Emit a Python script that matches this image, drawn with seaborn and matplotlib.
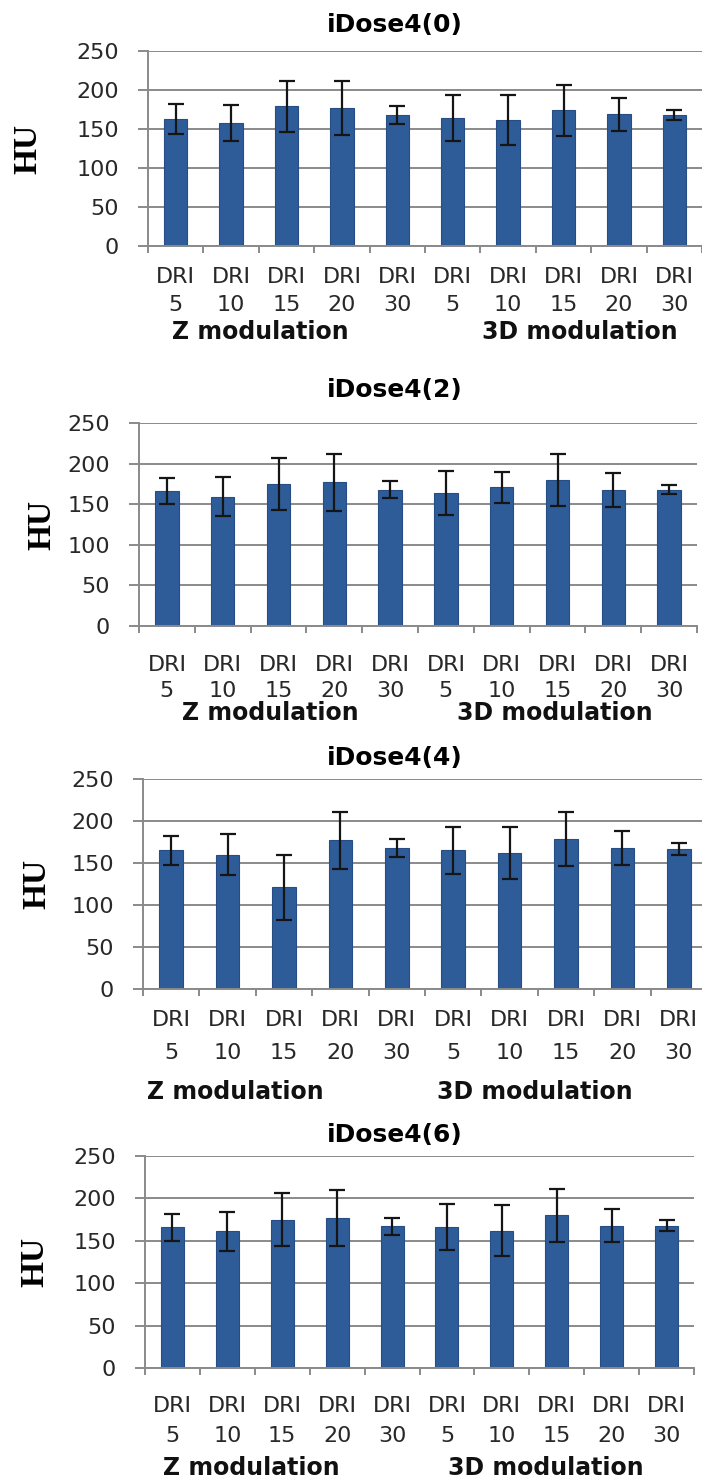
import numpy as np
import pandas as pd
import matplotlib
matplotlib.use("Agg")
import matplotlib.pyplot as plt
import seaborn as sns

# ---------------- data ----------------
titles = ["iDose4(0)", "iDose4(2)", "iDose4(4)", "iDose4(6)"]
group_names = ["Z modulation", "3D modulation"]
groups = ["Z modulation"] * 5 + ["3D modulation"] * 5
dri_levels = ["5", "10", "15", "20", "30", "5", "10", "15", "20", "30"]

means_0 = [163, 158, 179, 177, 168, 164, 161, 174, 169, 168]
err_0 = [19, 23, 33, 35, 11, 29, 32, 33, 21, 7]
means_2 = [166, 159, 175, 177, 168, 164, 171, 180, 168, 168]
err_2 = [16, 24, 32, 35, 10, 27, 19, 32, 21, 6]
means_4 = [165, 160, 121, 177, 168, 165, 162, 179, 168, 167]
err_4 = [17, 24, 39, 34, 11, 28, 31, 32, 20, 7]
means_6 = [166, 161, 175, 177, 167, 166, 162, 180, 168, 168]
err_6 = [16, 23, 31, 33, 10, 27, 30, 31, 20, 6]

all_means = [means_0, means_2, means_4, means_6]
all_errs = [err_0, err_2, err_4, err_6]
yticks = [0, 50, 100, 150, 200, 250]

# ---------------- layout (pixels) ----------------
W, H = 702, 1481
# left, right, top, bottom of each plot area
boxes = [(148, 702, 51, 246), (139, 697, 423, 626), (143, 707, 779, 989), (145, 694, 1156, 1368)]
title_y = [25, 390, 758, 1135]
title_x = 395
hu_x = [28, 42, 37, 35]
row_off = [(31, 59, 86), (39, 65, 87), (31, 64, 103), (38, 68, 100)]
group_pos = [(1.52, 7.3), (1.85, 6.95), (1.13, 6.45), (1.43, 6.8)]

BAR = "#2e5c99"
BAR_EDGE = "#264e85"
GRID = "#8a8a8a"
TXT = "#282828"

sns.set_theme(style="white")
plt.rcParams["font.family"] = ["DejaVu Sans"]

fig = plt.figure(figsize=(W / 100, H / 100), dpi=100)
fig.patch.set_facecolor("white")

keys = [f"{g} DRI {d}" for g, d in zip(groups, dri_levels)]
px2pt = 72 / 100

for k in range(4):
    L, R, T, B = boxes[k]
    ax = fig.add_axes([L / W, 1 - B / H, (R - L) / W, (B - T) / H])
    df = pd.DataFrame({"cond": keys, "HU": all_means[k]})
    sns.barplot(data=df, x="cond", y="HU", order=keys, color=BAR, width=0.42,
                errorbar=None, saturation=1, edgecolor=BAR_EDGE, linewidth=0.8,
                ax=ax, zorder=2)
    ax.errorbar(np.arange(len(keys)), all_means[k], yerr=all_errs[k], fmt="none",
                ecolor="#151515", elinewidth=1.6, capsize=6, capthick=1.6, zorder=3)
    ax.set_xlim(-0.5, 9.5)
    ax.set_ylim(0, 250)
    ax.set_yticks(yticks)
    ax.yaxis.grid(True, color=GRID, lw=1.4)
    ax.set_axisbelow(True)
    ax.set_xticks(np.arange(10))
    ax.set_xticklabels([""] * 10)
    ax.set_xticks(np.arange(-0.5, 10, 1), minor=True)
    ax.tick_params(axis="x", which="major", length=0, labelbottom=False)
    ax.tick_params(axis="x", which="minor", length=5, width=1.4, color=GRID, bottom=True)
    ax.tick_params(axis="y", length=7, width=1.4, color=GRID, pad=14, labelsize=16,
                   labelcolor=TXT, left=True)
    for s in ["top", "right"]:
        ax.spines[s].set_visible(False)
    for s in ["left", "bottom"]:
        ax.spines[s].set_color(GRID)
        ax.spines[s].set_linewidth(1.4)
    ax.set_xlabel("")
    ax.set_ylabel("HU", fontsize=24, fontweight="bold", family=["Liberation Serif"],
                  color="black", va="center")
    ax.yaxis.set_label_coords((hu_x[k] - L) / (R - L), 0.5)

    hpx = B - T
    ax.text((title_x - L) / (R - L), 1 + (T - title_y[k]) / hpx, titles[k],
            transform=ax.transAxes, ha="center", va="center", fontsize=18,
            fontweight="bold", color="black")

    o1, o2, o3 = row_off[k]
    for i, d in enumerate(dri_levels):
        ax.annotate("DRI", xy=(i, 0), xycoords=("data", "axes fraction"),
                    xytext=(0, -o1 * px2pt), textcoords="offset points",
                    ha="center", va="center", fontsize=16, color=TXT,
                    annotation_clip=False)
        ax.annotate(d, xy=(i, 0), xycoords=("data", "axes fraction"),
                    xytext=(0, -o2 * px2pt), textcoords="offset points",
                    ha="center", va="center", fontsize=16, color=TXT,
                    annotation_clip=False)
    for gname, gx in zip(group_names, group_pos[k]):
        ax.annotate(gname, xy=(gx, 0), xycoords=("data", "axes fraction"),
                    xytext=(0, -o3 * px2pt), textcoords="offset points",
                    ha="center", va="center", fontsize=17, fontweight="bold",
                    color="#111111", annotation_clip=False)

fig.savefig("out.png", dpi=100, facecolor="white")
